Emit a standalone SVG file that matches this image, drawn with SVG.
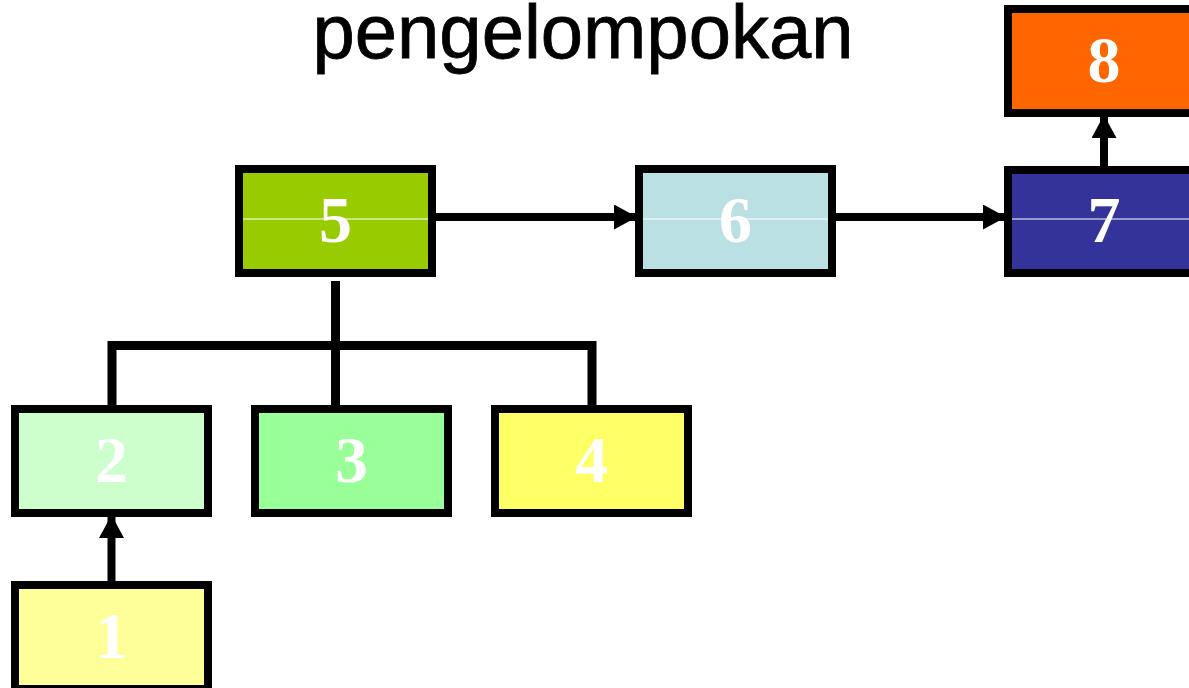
<svg xmlns="http://www.w3.org/2000/svg" width="1189" height="688" viewBox="0 0 1189 688">
  <defs>
    <style>
      .box { stroke: #000; stroke-width: 8; }
      .num { font-family: "Liberation Serif", "Times New Roman", serif; font-weight: bold; font-size: 66px; fill: #fff; text-anchor: middle; }
      .title { font-family: "Liberation Sans", Arial, sans-serif; font-size: 76px; fill: #000; stroke: #000; stroke-width: 0.8; text-anchor: middle; }
      .conn { stroke: #000; stroke-width: 8; fill: none; }
      .tree { stroke: #000; stroke-width: 9; fill: none; }
      .glint { stroke: #fff; stroke-width: 1; }
    </style>
    <marker id="arrow" markerWidth="23" markerHeight="25" refX="23" refY="12.5" orient="auto" markerUnits="userSpaceOnUse">
      <path d="M0,0 L23,12.5 L0,25 Z" fill="#000"/>
    </marker>
  </defs>
  <rect width="1189" height="688" fill="#fff"/>
  <text class="title" x="583" y="58">pengelompokan</text>

  <g id="connectors">
    <line class="conn" x1="436" y1="217" x2="637" y2="217" marker-end="url(#arrow)"/>
    <line class="conn" x1="836" y1="217" x2="1006" y2="217" marker-end="url(#arrow)"/>
    <line class="conn" x1="1104" y1="166" x2="1104" y2="115" marker-end="url(#arrow)"/>
    <line class="conn" x1="111.5" y1="581" x2="111.5" y2="515" marker-end="url(#arrow)"/>
    <line class="tree" x1="335.5" y1="281" x2="335.5" y2="405"/>
    <path class="tree" d="M112,405 V345.5 H592 V405"/>
  </g>

  <g id="node5">
    <rect class="box" x="239" y="169" width="193" height="104" fill="#99CC00"/>
    <line class="glint" x1="243" y1="219" x2="428" y2="219"/>
    <text class="num" x="335.5" y="242">5</text>
  </g>
  <g id="node6">
    <rect class="box" x="639" y="169" width="193" height="104" fill="#BBE0E3"/>
    <line class="glint" x1="643" y1="219" x2="828" y2="219"/>
    <text class="num" x="735.5" y="242">6</text>
  </g>
  <g id="node7">
    <rect class="box" x="1008" y="170" width="193" height="103" fill="#333399"/>
    <line class="glint" x1="1012" y1="219" x2="1189" y2="219"/>
    <text class="num" x="1104" y="242">7</text>
  </g>
  <g id="node8">
    <rect class="box" x="1008" y="9" width="193" height="104" fill="#FF6600"/>
    <text class="num" x="1104" y="82">8</text>
  </g>
  <g id="node2">
    <rect class="box" x="15" y="409" width="193" height="104" fill="#CCFFCC"/>
    <text class="num" x="111.5" y="482">2</text>
  </g>
  <g id="node3">
    <rect class="box" x="255" y="409" width="193" height="104" fill="#99FF99"/>
    <text class="num" x="351.5" y="482">3</text>
  </g>
  <g id="node4">
    <rect class="box" x="495" y="409" width="193" height="104" fill="#FFFF66"/>
    <text class="num" x="591.5" y="482">4</text>
  </g>
  <g id="node1">
    <rect class="box" x="15" y="585" width="193" height="104" fill="#FFFF99"/>
    <text class="num" x="111.5" y="658">1</text>
  </g>
</svg>
